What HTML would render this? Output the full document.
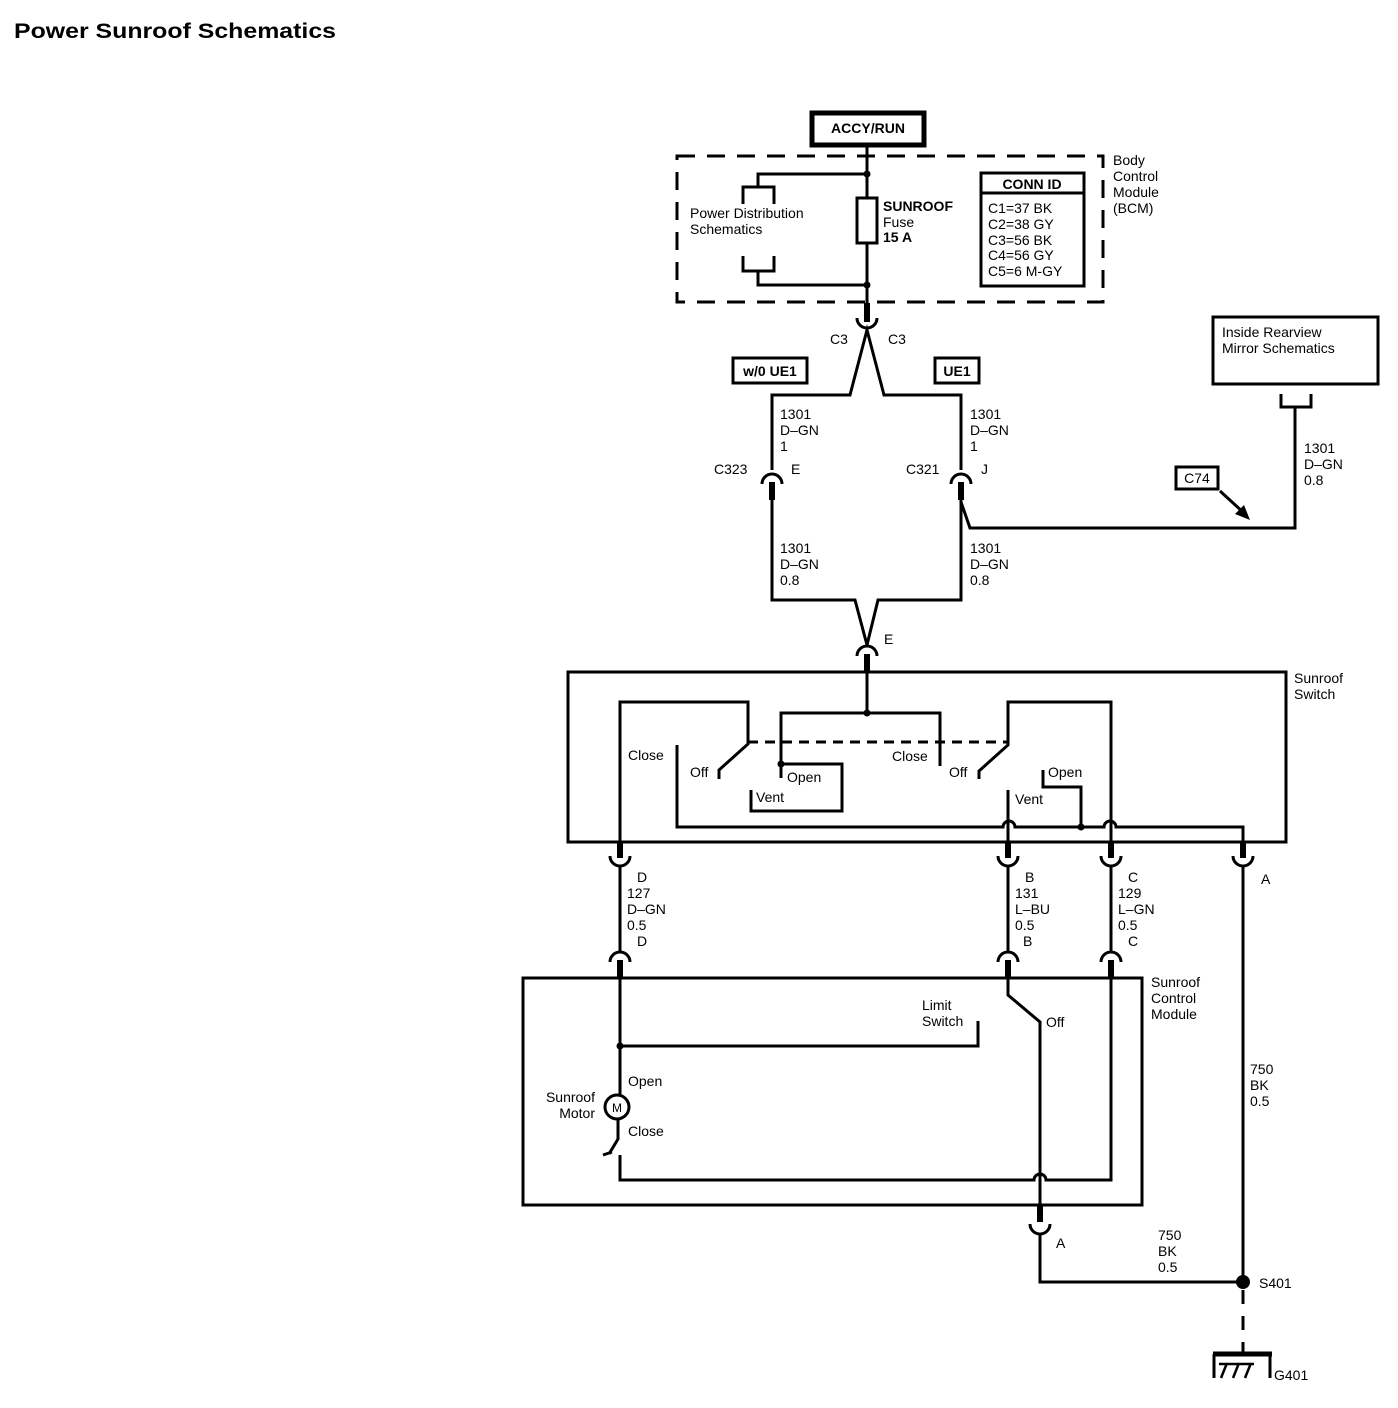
<!DOCTYPE html>
<html><head><meta charset="utf-8"><style>
html,body{margin:0;padding:0;background:#fff}
svg{display:block}
text{font-family:"Liberation Sans",sans-serif;font-size:14px;fill:#000}
.b{font-weight:bold}
</style></head><body>
<svg width="1398" height="1408" viewBox="0 0 1398 1408" xmlns="http://www.w3.org/2000/svg">
<text x="14" y="38" class="b" style="font-size:21px" textLength="322" lengthAdjust="spacingAndGlyphs">Power Sunroof Schematics</text>
<g fill="none" stroke="#000" stroke-width="3">
<rect x="812" y="113" width="112" height="32" stroke-width="5"/>
<rect x="677" y="156" width="426" height="146" stroke-dasharray="18,12"/>
<line x1="867" y1="145" x2="867" y2="303"/>
<polyline points="867,174 758,174 758,187"/>
<polyline points="743,204 743,187 774,187 774,204"/>
<polyline points="743,256 743,271 774,271 774,256"/>
<polyline points="758,271 758,285 867,285"/>
<rect x="857" y="198" width="20" height="45" fill="#fff"/>
<rect x="981" y="173" width="103" height="113"/>
<line x1="981" y1="193" x2="1084" y2="193"/>
<line x1="867" y1="303" x2="867" y2="322" stroke-width="6"/>
<path d="M857,318 A10,10 0 0 0 877,318"/>
<polyline points="772,470 772,395 850,395 867,330 884,395 961,395 961,470"/>
<rect x="733" y="358" width="74" height="25"/>
<rect x="935" y="358" width="44" height="25"/>
<path d="M762,484 A10,10 0 0 1 782,484"/>
<path d="M951,484 A10,10 0 0 1 971,484"/>
<line x1="772" y1="482" x2="772" y2="500" stroke-width="6"/>
<line x1="961" y1="482" x2="961" y2="500" stroke-width="6"/>
<polyline points="772,500 772,600 855,600 867,645 878,600 961,600 961,500"/>
<polyline points="961,502 970,528 1295,528 1295,407"/>
<rect x="1213" y="317" width="165" height="67"/>
<polyline points="1281,394 1281,407 1311,407 1311,394"/>
<rect x="1176" y="467" width="42" height="22"/>
<line x1="1220" y1="491" x2="1244" y2="513"/>
<path d="M857,656 A10,10 0 0 1 877,656"/>
<line x1="867" y1="654" x2="867" y2="673" stroke-width="6"/>
<rect x="568" y="672" width="718" height="170"/>
<line x1="867" y1="672" x2="867" y2="713"/>
<polyline points="781,778 781,713 940,713 940,766"/>
<polyline points="620,842 620,702 748,702 748,744 719,770 719,779"/>
<line x1="748" y1="742" x2="1008" y2="742" stroke-dasharray="10,7"/>
<polyline points="781,764 842,764 842,811 751,811 751,790"/>
<path d="M677,745 L677,827 L1003,827 A6,6 0 0 1 1015,827 L1104,827 A6,6 0 0 1 1116,827 L1243,827 L1243,842"/>
<polyline points="1111,842 1111,702 1008,702 1008,745 979,771 979,779"/>
<line x1="1008" y1="790" x2="1008" y2="842"/>
<polyline points="1043,770 1043,787 1081,787 1081,827"/>
<g stroke-width="6"><line x1="620" y1="842" x2="620" y2="858"/><line x1="1008" y1="842" x2="1008" y2="858"/><line x1="1111" y1="842" x2="1111" y2="858"/><line x1="1243" y1="842" x2="1243" y2="858"/>
<line x1="620" y1="960" x2="620" y2="977"/><line x1="1008" y1="960" x2="1008" y2="977"/><line x1="1111" y1="960" x2="1111" y2="977"/></g>
<path d="M610,856 A10,10 0 0 0 630,856 M998,856 A10,10 0 0 0 1018,856 M1101,856 A10,10 0 0 0 1121,856 M1233,856 A10,10 0 0 0 1253,856"/>
<path d="M610,962 A10,10 0 0 1 630,962 M998,962 A10,10 0 0 1 1018,962 M1101,962 A10,10 0 0 1 1121,962"/>
<line x1="620" y1="866" x2="620" y2="952"/><line x1="1008" y1="866" x2="1008" y2="952"/><line x1="1111" y1="866" x2="1111" y2="952"/>
<line x1="1243" y1="866" x2="1243" y2="1282"/>
<rect x="523" y="978" width="619" height="227"/>
<polyline points="620,977 620,1095"/>
<polyline points="620,1046 978,1046 978,1021"/>
<circle cx="617" cy="1107" r="12"/>
<polyline points="618,1119 618,1139 609,1154"/>
<line x1="603" y1="1155" x2="612" y2="1152"/>
<path d="M620,1155 L620,1180 L1034,1180 A6,6 0 0 1 1046,1180 L1111,1180 L1111,977"/>
<polyline points="1008,977 1008,995 1040,1022 1040,1205"/>
<line x1="1040" y1="1205" x2="1040" y2="1222" stroke-width="6"/>
<path d="M1030,1224 A10,10 0 0 0 1050,1224"/>
<polyline points="1040,1234 1040,1282 1243,1282"/>
<line x1="1243" y1="1290" x2="1243" y2="1352" stroke-dasharray="14,12"/>
<line x1="1213" y1="1354" x2="1272" y2="1354" stroke-width="5"/>
<polyline points="1214,1354 1214,1378 M1270,1354 1270,1378"/>
<path d="M1221,1378 L1227,1363 M1233,1378 L1239,1363 M1245,1378 L1251,1363 M1219,1364 L1254,1364" stroke-width="2.5"/>
</g>
<line x1="1270" y1="1354" x2="1270" y2="1378" stroke="#000" stroke-width="3"/>
<circle cx="867" cy="174" r="3.5"/><circle cx="867" cy="285" r="3.5"/>
<circle cx="867" cy="713" r="3.5"/><circle cx="781" cy="764" r="3.5"/><circle cx="1081" cy="827" r="3.5"/>
<circle cx="620" cy="1046" r="3.5"/><circle cx="1243" cy="1282" r="7"/>
<polygon points="1250,520 1235,514 1244,505"/>
<text x="868" y="133" text-anchor="middle" class="b">ACCY/RUN</text>
<g style="font-size:13.5px">
<text x="690" y="218">Power Distribution</text><text x="690" y="234">Schematics</text>
<text x="883" y="211" class="b">SUNROOF</text><text x="883" y="227">Fuse</text><text x="883" y="242" class="b">15 A</text>
<text x="1032" y="189" text-anchor="middle" class="b">CONN ID</text>
<text x="988" y="213">C1=37 BK</text><text x="988" y="229">C2=38 GY</text><text x="988" y="245">C3=56 BK</text><text x="988" y="260">C4=56 GY</text><text x="988" y="276">C5=6 M-GY</text>
<text x="1113" y="165">Body</text><text x="1113" y="181">Control</text><text x="1113" y="197">Module</text><text x="1113" y="213">(BCM)</text>
<text x="830" y="344">C3</text><text x="888" y="344">C3</text>
<text x="770" y="376" text-anchor="middle" class="b">w/0 UE1</text><text x="957" y="376" text-anchor="middle" class="b">UE1</text>
<text x="780" y="419">1301</text><text x="780" y="435">D–GN</text><text x="780" y="451">1</text>
<text x="970" y="419">1301</text><text x="970" y="435">D–GN</text><text x="970" y="451">1</text>
<text x="714" y="474">C323</text><text x="791" y="474">E</text><text x="906" y="474">C321</text><text x="981" y="474">J</text>
<text x="780" y="553">1301</text><text x="780" y="569">D–GN</text><text x="780" y="585">0.8</text>
<text x="970" y="553">1301</text><text x="970" y="569">D–GN</text><text x="970" y="585">0.8</text>
<text x="1222" y="337">Inside Rearview</text><text x="1222" y="353">Mirror Schematics</text>
<text x="1197" y="483" text-anchor="middle">C74</text>
<text x="1304" y="453">1301</text><text x="1304" y="469">D–GN</text><text x="1304" y="485">0.8</text>
<text x="884" y="644">E</text>
<text x="1294" y="683">Sunroof</text><text x="1294" y="699">Switch</text>
<text x="628" y="760">Close</text><text x="690" y="777">Off</text><text x="787" y="782">Open</text><text x="756" y="802">Vent</text>
<text x="892" y="761">Close</text><text x="949" y="777">Off</text><text x="1048" y="777">Open</text><text x="1015" y="804">Vent</text>
<text x="637" y="882">D</text><text x="627" y="898">127</text><text x="627" y="914">D–GN</text><text x="627" y="930">0.5</text><text x="637" y="946">D</text>
<text x="1025" y="882">B</text><text x="1015" y="898">131</text><text x="1015" y="914">L–BU</text><text x="1015" y="930">0.5</text><text x="1023" y="946">B</text>
<text x="1128" y="882">C</text><text x="1118" y="898">129</text><text x="1118" y="914">L–GN</text><text x="1118" y="930">0.5</text><text x="1128" y="946">C</text>
<text x="1261" y="884">A</text>
<text x="1151" y="987">Sunroof</text><text x="1151" y="1003">Control</text><text x="1151" y="1019">Module</text>
<text x="922" y="1010">Limit</text><text x="922" y="1026">Switch</text><text x="1046" y="1027">Off</text>
<text x="628" y="1086">Open</text><text x="628" y="1136">Close</text>
<text x="595" y="1102" text-anchor="end">Sunroof</text><text x="595" y="1118" text-anchor="end">Motor</text>
<text x="617" y="1112" text-anchor="middle" style="font-size:12px">M</text>
<text x="1250" y="1074">750</text><text x="1250" y="1090">BK</text><text x="1250" y="1106">0.5</text>
<text x="1158" y="1240">750</text><text x="1158" y="1256">BK</text><text x="1158" y="1272">0.5</text>
<text x="1056" y="1248">A</text><text x="1259" y="1288">S401</text><text x="1274" y="1380">G401</text>
</g>
</svg>
</body></html>
